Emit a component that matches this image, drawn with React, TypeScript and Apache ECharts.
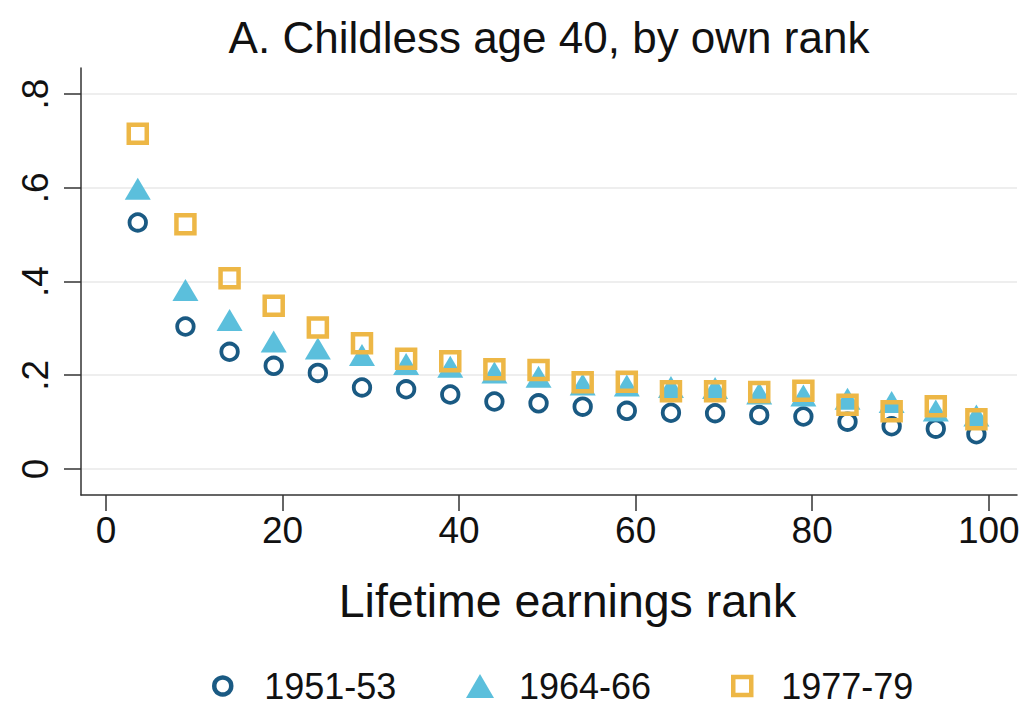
import React, { useEffect, useRef } from "react";
import * as echarts from "echarts";

const titleText = "A. Childless age 40, by own rank";
const xAxisTitle = "Lifetime earnings rank";
const seriesNames = ["1951-53", "1964-66", "1977-79"];

const xRank = [3.6, 9, 14, 19, 24, 29, 34, 39, 44, 49, 54, 59, 64, 69, 74, 79, 84, 89, 94, 98.6];
const y1951 = [0.526, 0.304, 0.25, 0.22, 0.205, 0.174, 0.17, 0.159, 0.144, 0.14, 0.133, 0.124, 0.12, 0.119, 0.115, 0.112, 0.101, 0.091, 0.086, 0.074];
const y1964 = [0.598, 0.382, 0.318, 0.272, 0.257, 0.243, 0.224, 0.218, 0.206, 0.197, 0.18, 0.178, 0.175, 0.173, 0.161, 0.157, 0.15, 0.143, 0.125, 0.114];
const y1977 = [0.715, 0.522, 0.407, 0.348, 0.302, 0.268, 0.235, 0.23, 0.213, 0.211, 0.185, 0.186, 0.166, 0.166, 0.164, 0.167, 0.137, 0.123, 0.134, 0.106];

const xTickValues = [0, 20, 40, 60, 80, 100];
const yTickValues = [0, 0.2, 0.4, 0.6, 0.8];
const yTickLabels = ["0", ".2", ".4", ".6", ".8"];

const colDark = "#1a5a83";
const colLight = "#5bbfdc";
const colGold = "#edb746";
const FONT = "'Liberation Sans', Arial, sans-serif";

export default function App() {
  const ref = useRef<HTMLDivElement>(null);
  useEffect(() => {
    if (!ref.current) return;
    const chart = echarts.init(ref.current, null, { renderer: "svg" });
    const pairs = (ys: number[]) => xRank.map((x, i) => [x, ys[i]]);
    const legendText = (pad: number) => ({
      fontSize: 36,
      lineHeight: 36,
      fontFamily: FONT,
      color: "#111",
      padding: [0, 0, 0, pad],
    });
    chart.setOption({
      animation: false,
      backgroundColor: "#fff",
      textStyle: { fontFamily: FONT },
      title: {
        text: titleText,
        left: 549,
        top: 15,
        textAlign: "center",
        padding: 0,
        textStyle: { fontSize: 44, fontWeight: "normal", color: "#111", fontFamily: FONT },
      },
      grid: { left: 81, right: 10, top: 68, bottom: 210, containLabel: false },
      xAxis: {
        type: "value",
        min: -2.83,
        max: 103.2,
        name: xAxisTitle,
        nameLocation: "middle",
        nameGap: 82,
        nameTextStyle: { fontSize: 46.5, color: "#111", fontFamily: FONT, padding: [0, 0, 0, 37] },
        axisLine: { show: true, onZero: false, lineStyle: { color: "#333", width: 1.5 } },
        axisTick: { show: true, length: 16, customValues: xTickValues, lineStyle: { color: "#333", width: 1.5 } },
        axisLabel: { customValues: xTickValues, fontSize: 37, color: "#111", margin: 17, fontFamily: FONT },
        splitLine: { show: false },
      },
      yAxis: {
        type: "value",
        min: -0.0555,
        max: 0.8555,
        axisLine: { show: true, onZero: false, lineStyle: { color: "#333", width: 1.5 } },
        axisTick: { show: true, length: 17, customValues: yTickValues, lineStyle: { color: "#333", width: 1.5 } },
        axisLabel: {
          customValues: yTickValues,
          rotate: 90,
          fontSize: 37,
          color: "#111",
          margin: 27,
          fontFamily: FONT,
          formatter: (v: number) => {
            const i = yTickValues.findIndex((t) => Math.abs(t - v) < 1e-6);
            return i >= 0 ? yTickLabels[i] : "";
          },
        },
        splitLine: { show: true, lineStyle: { color: "#e8e8e8", width: 1.5 } },
      },
      legend: [
        {
          data: [{ name: seriesNames[0], icon: "circle", itemStyle: { borderWidth: 4.5 } }],
          left: 212,
          top: 668,
          padding: 0,
          itemWidth: 17,
          itemHeight: 17,
          textStyle: legendText(28),
          selectedMode: false,
        },
        {
          data: [{ name: seriesNames[1], icon: "triangle", itemStyle: { borderWidth: 0 } }],
          left: 466,
          top: 668,
          padding: 0,
          itemWidth: 28,
          itemHeight: 24,
          textStyle: legendText(20),
          selectedMode: false,
        },
        {
          data: [{ name: seriesNames[2], icon: "rect", itemStyle: { borderWidth: 4.5 } }],
          left: 731,
          top: 668,
          padding: 0,
          itemWidth: 18,
          itemHeight: 18,
          textStyle: legendText(25),
          selectedMode: false,
        },
      ],
      series: [
        {
          name: seriesNames[0],
          type: "scatter",
          symbol: "circle",
          symbolSize: 16.5,
          data: pairs(y1951),
          itemStyle: { color: "rgba(0,0,0,0)", borderColor: colDark, borderWidth: 3.8, opacity: 1 },
          emphasis: { disabled: true },
          silent: true,
        },
        {
          name: seriesNames[1],
          type: "scatter",
          symbol: "triangle",
          symbolSize: [26, 22],
          data: pairs(y1964),
          itemStyle: { color: colLight, borderWidth: 0, opacity: 1 },
          emphasis: { disabled: true },
          silent: true,
        },
        {
          name: seriesNames[2],
          type: "scatter",
          symbol: "rect",
          symbolSize: 18,
          data: pairs(y1977),
          itemStyle: { color: "rgba(0,0,0,0)", borderColor: colGold, borderWidth: 4.5, opacity: 1 },
          emphasis: { disabled: true },
          silent: true,
        },
      ],
    });
    return () => chart.dispose();
  }, []);
  return (
    <div
      ref={ref}
      style={{ position: "absolute", left: 0, top: 0, width: 1027, height: 705, background: "#fff" }}
    />
  );
}
